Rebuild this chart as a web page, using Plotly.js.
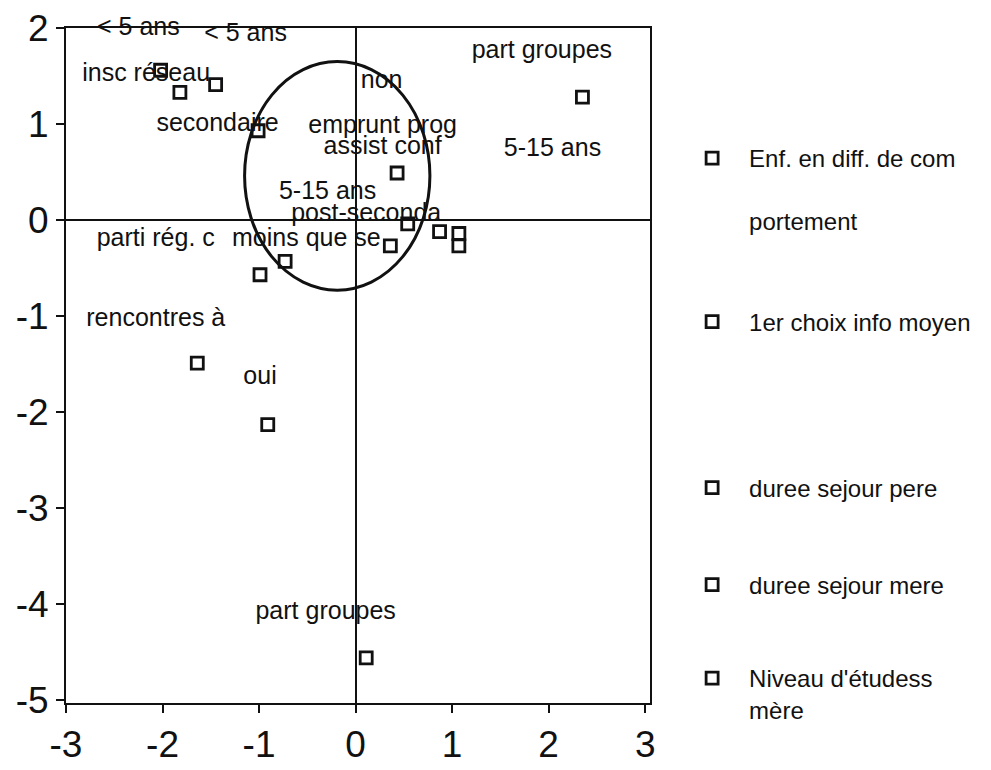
<!DOCTYPE html>
<html>
<head>
<meta charset="utf-8">
<script src="https://cdn.plot.ly/plotly-3.0.1.min.js"></script>
<style>
  html, body { margin: 0; padding: 0; background: #fff; }
  #chart { width: 991px; height: 770px; }
</style>
</head>
<body>
<div id="chart"></div>
<script>
// Correspondence-analysis style map, open squares + labels

const seriesNames = [
    'Enf. en diff. de com<br><br>portement',
    '1er choix info moyen',
    'duree sejour pere',
    'duree sejour mere',
    "Niveau d'étudess<br>mère"
];

// point coordinates per series
const enfX    = [0.43, -0.91];
const enfY    = [0.49, -2.13];
const choixX  = [-2.02, 2.35, 0.54, 0.87, -0.99, -1.64, 0.11];
const choixY  = [1.56, 1.28, -0.04, -0.12, -0.57, -1.49, -4.56];
const pereX   = [-1.82, 1.07];
const pereY   = [1.33, -0.14];
const mereX   = [-1.45, 1.07];
const mereY   = [1.41, -0.27];
const niveauX = [-1.01, 0.36, -0.73];
const niveauY = [0.93, -0.27, -0.43];

// category labels (as placed on the map)
const labelText = ['< 5 ans', '< 5 ans', 'insc réseau', 'secondaire', 'non', 'part groupes',
                   'emprunt prog', 'assist conf', '5-15 ans', '5-15 ans', 'post-seconda',
                   'parti rég. c', 'moins que se', 'rencontres à', 'oui', 'part groupes'];
const labelX = [-2.25, -1.14, -2.17, -1.43, 0.27, 1.93, 0.28, 0.28, 2.04, -0.29, 0.11,
                -2.07, -0.51, -2.07, -0.99, -0.31];
const labelY = [1.995, 1.93, 1.51, 0.99, 1.44, 1.75, 0.97, 0.75, 0.73, 0.28, 0.05,
                -0.21, -0.21, -1.04, -1.64, -4.09];

// axis ticks (plain hyphen minus as in the original)
const tickVals = [-5, -4, -3, -2, -1, 0, 1, 2, 3];
const tickText = ['-5', '-4', '-3', '-2', '-1', '0', '1', '2', '3'];

// ellipse around the central cluster
const ellipse = { x0: -1.15, x1: 0.77, y0: -0.73, y1: 1.65 };

const FONT = 'Arial, "Liberation Sans", sans-serif';
const marker = { symbol: 'square-open', size: 12, color: '#111', line: { width: 2.8, color: '#111' } };

const xs = [enfX, choixX, pereX, mereX, niveauX];
const ys = [enfY, choixY, pereY, mereY, niveauY];
const legendIds = ['legend', 'legend2', 'legend3', 'legend4', 'legend5'];

const traces = seriesNames.map((name, i) => ({
    x: xs[i], y: ys[i],
    type: 'scatter', mode: 'markers',
    name: name,
    marker: marker,
    legend: legendIds[i]
}));

traces.push({
    x: labelX, y: labelY, text: labelText,
    type: 'scatter', mode: 'text',
    textposition: 'middle center',
    textfont: { family: FONT, size: 25, color: '#111' },
    cliponaxis: false,
    showlegend: false,
    hoverinfo: 'skip'
});

function legendAt(y, anchor) {
    return {
        x: 1.043, y: y, xanchor: 'left', yanchor: anchor,
        valign: 'top',
        itemwidth: 64,
        bgcolor: 'rgba(0,0,0,0)',
        font: { family: FONT, size: 24, color: '#111' }
    };
}

const axisBase = {
    showgrid: false,
    showline: true, mirror: true,
    linecolor: '#111', linewidth: 2,
    zeroline: true, zerolinecolor: '#111', zerolinewidth: 2,
    ticks: 'outside', ticklen: 8, tickwidth: 2, tickcolor: '#111',
    tickfont: { family: FONT, size: 37, color: '#111' },
    tickmode: 'array', tickvals: tickVals, ticktext: tickText
};

const layout = {
    width: 991, height: 770,
    margin: { l: 66, r: 341, t: 28, b: 67 },
    paper_bgcolor: '#fff', plot_bgcolor: '#fff',
    xaxis: Object.assign({}, axisBase, { range: [-3, 3.05], ticklabelstandoff: 0 }),
    yaxis: Object.assign({}, axisBase, { range: [-5.03, 2], ticklabelstandoff: 0 }),
    legend:  legendAt((703 - 136) / 675, 'top'),
    legend2: legendAt((703 - 322) / 675, 'middle'),
    legend3: legendAt((703 - 488) / 675, 'middle'),
    legend4: legendAt((703 - 585) / 675, 'middle'),
    legend5: legendAt((703 - 656) / 675, 'top'),
    shapes: [{
        type: 'circle', xref: 'x', yref: 'y',
        x0: ellipse.x0, x1: ellipse.x1, y0: ellipse.y0, y1: ellipse.y1,
        line: { color: '#111', width: 3 }
    }],
    showlegend: true
};

Plotly.newPlot('chart', traces, layout, { displayModeBar: false });
</script>
</body>
</html>
